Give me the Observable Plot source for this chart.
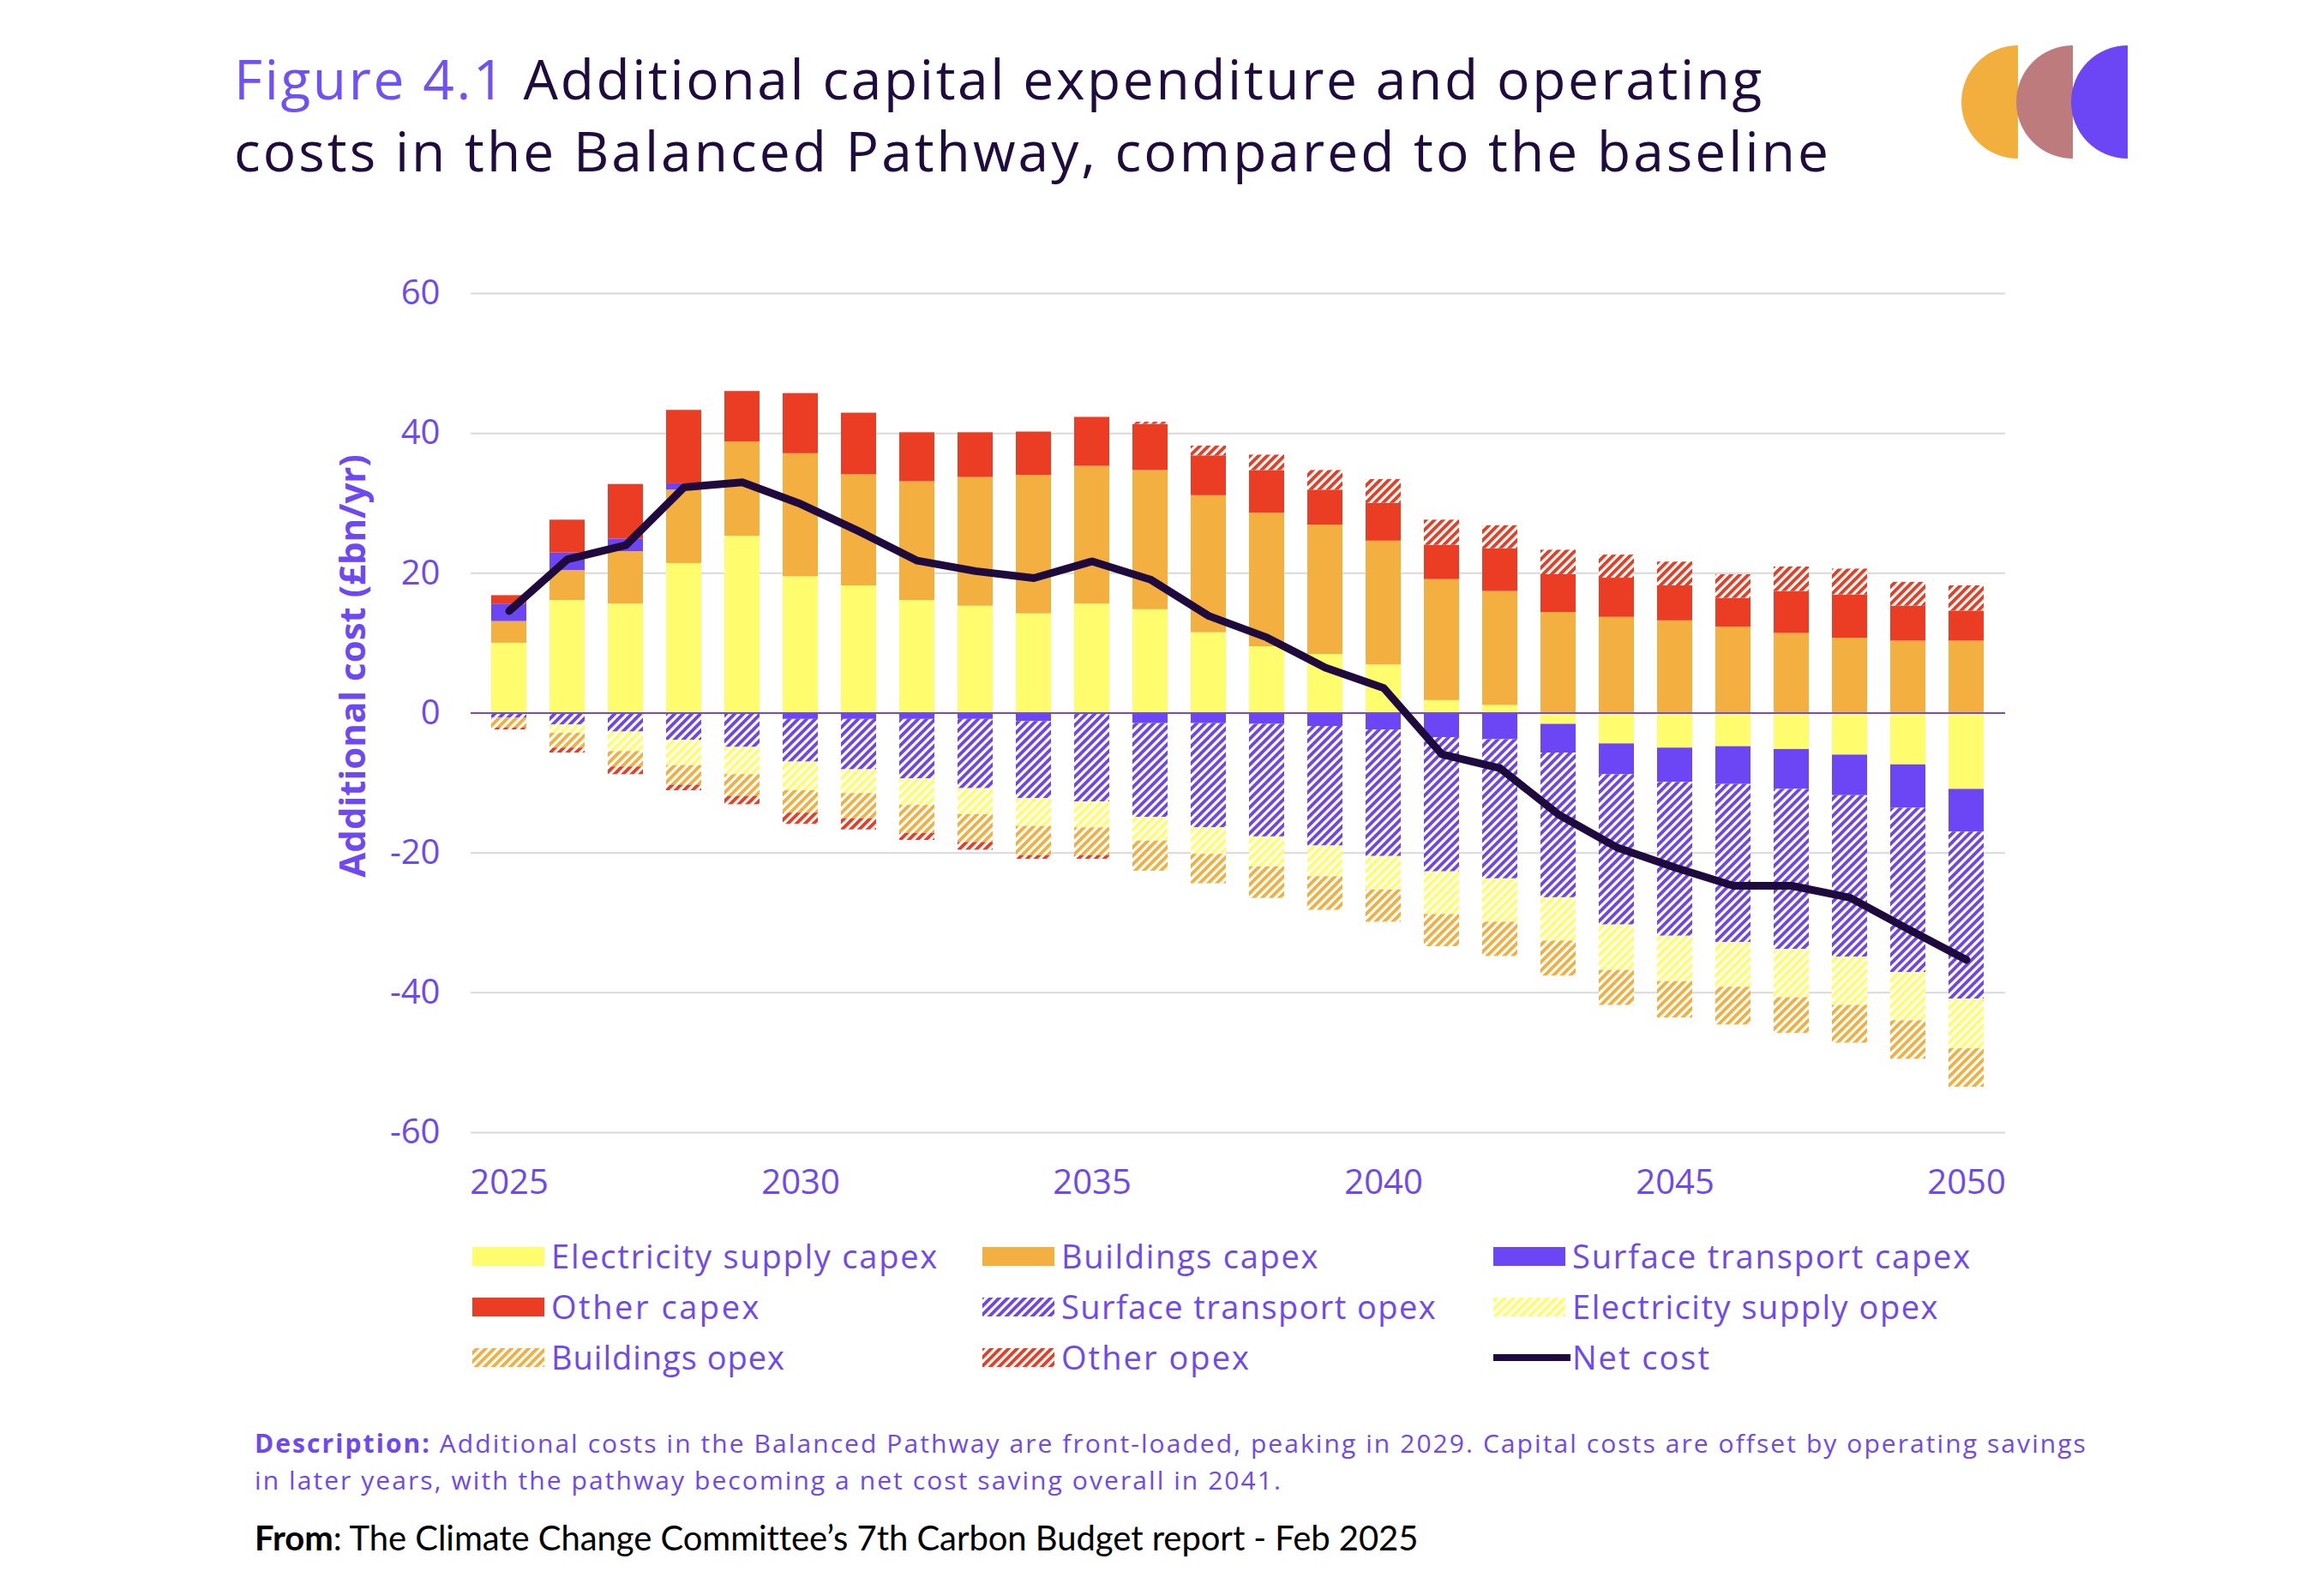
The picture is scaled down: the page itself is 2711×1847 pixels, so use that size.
<!DOCTYPE html>
<html>
<head>
<meta charset="utf-8">
<script src="https://cdn.jsdelivr.net/npm/d3@7"></script>
<script src="https://cdn.jsdelivr.net/npm/@observablehq/plot@0.6"></script>
<style>
html, body { margin: 0; padding: 0; background: #fff; }
#page { position: relative; width: 2711px; height: 1847px; overflow: hidden; background: #fff; font-family: "Open Sans", sans-serif; }
.abs { position: absolute; white-space: nowrap; line-height: 1; }
</style>
</head>
<body>
<div id="page"></div>
<script>
// ---------------- DATA ----------------
const years = [2025,2026,2027,2028,2029,2030,2031,2032,2033,2034,2035,2036,2037,2038,2039,2040,2041,2042,2043,2044,2045,2046,2047,2048,2049,2050];
const elecCapex      = [10.0,16.1,15.6,21.4,25.3,19.5,18.2,16.1,15.3,14.2,15.6,14.8,11.5,9.5,8.4,6.9,1.8,1.1,-1.6,-4.4,-5.0,-4.8,-5.2,-6.0,-7.4,-10.9];
const buildingsCapex = [3.1,4.3,7.5,10.5,13.5,17.6,15.9,17.0,18.4,19.8,19.7,19.9,19.6,19.1,18.5,17.7,17.3,16.3,14.4,13.7,13.2,12.3,11.4,10.7,10.3,10.3];
const transportCapex = [2.5,2.5,1.8,0.9,0,-0.9,-0.9,-0.9,-0.9,-1.2,0,-1.5,-1.5,-1.6,-1.9,-2.4,-3.5,-3.8,-4.1,-4.4,-4.9,-5.4,-5.7,-5.8,-6.2,-6.1];
const otherCapex     = [1.2,4.7,7.8,10.5,7.2,8.6,8.8,7.0,6.4,6.2,7.0,6.6,5.7,6.1,5.0,5.4,4.9,6.1,5.4,5.6,5.0,4.1,6.0,6.2,5.0,4.3];
const transportOpex  = [-0.7,-1.7,-2.7,-3.9,-4.9,-6.1,-7.2,-8.5,-9.9,-11.0,-12.7,-13.4,-14.9,-16.1,-17.1,-18.1,-19.2,-19.9,-20.7,-21.5,-22.0,-22.6,-22.9,-23.1,-23.5,-23.9];
const elecOpex       = [0,-1.2,-2.8,-3.6,-3.9,-4.1,-3.4,-3.8,-3.7,-4.0,-3.7,-3.4,-3.8,-4.3,-4.4,-4.8,-6.1,-6.2,-6.2,-6.5,-6.5,-6.4,-6.9,-6.9,-6.9,-7.1];
const buildingsOpex  = [-1.4,-2.1,-2.2,-2.8,-3.1,-3.2,-3.6,-4.0,-4.0,-4.2,-4.0,-4.3,-4.2,-4.5,-4.8,-4.6,-4.6,-4.9,-5.0,-5.0,-5.2,-5.4,-5.1,-5.4,-5.5,-5.5];
const otherOpex      = [-0.3,-0.7,-1.1,-0.8,-1.2,-1.6,-1.6,-1.0,-1.1,-0.5,-0.5,0.3,1.4,2.2,2.8,3.4,3.6,3.3,3.5,3.3,3.4,3.4,3.5,3.7,3.4,3.6];
const netCost        = [14.6,22.0,24.0,32.3,33.0,29.9,26.0,21.8,20.3,19.3,21.7,19.1,13.9,10.8,6.5,3.6,-5.9,-7.9,-14.5,-19.2,-22.1,-24.7,-24.7,-26.4,-30.9,-35.3];

const seriesNames = ["Electricity supply capex","Buildings capex","Surface transport capex","Other capex","Surface transport opex","Electricity supply opex","Buildings opex","Other opex"];
const netName = "Net cost";
const xTickYears = [2025,2030,2035,2040,2045,2050];
const yTicks = [-60,-40,-20,0,20,40,60];
const yLabel = "Additional cost (£bn/yr)";
const titleFigure = "Figure 4.1";
const titleLine1 = "Additional capital expenditure and operating";
const titleLine2 = "costs in the Balanced Pathway, compared to the baseline";
const descBold = "Description:";
const descLine1 = " Additional costs in the Balanced Pathway are front-loaded, peaking in 2029. Capital costs are offset by operating savings";
const descLine2 = "in later years, with the pathway becoming a net cost saving overall in 2041.";
const fromBold = "From";
const fromText = ": The Climate Change Committee\u2019s 7th Carbon Budget report - Feb 2025";

// ---------------- STYLE ----------------
const YELLOW = "#FFFD6E", ORANGE = "#F3AF3F", PURPLE = "#6C45F5", RED = "#EA3D24", NET = "#1F0A3D";
const AXIS = "#6D48F5", TITLE_DARK = "#1F0B3E", TITLE_PURPLE = "#7050F7";
const FONT = "'Open Sans', sans-serif";
const seriesFills = [YELLOW, ORANGE, PURPLE, RED, "url(#p-st)", "url(#p-el)", "url(#p-bu)", "url(#p-ot)"];

const seriesValues = [elecCapex, buildingsCapex, transportCapex, otherCapex, transportOpex, elecOpex, buildingsOpex, otherOpex];
const table = seriesNames.flatMap((s, i) => years.map((year, j) => ({series: s, year, value: seriesValues[i][j]})));
const netTable = years.map((year, j) => ({year, value: netCost[j]}));

const page = document.getElementById("page");

// ---------------- CHART ----------------
const TOP = 250;
const chart = Plot.plot({
  width: 2711,
  height: 1200,
  marginTop: 92,
  marginBottom: 129,
  marginLeft: 549,
  marginRight: 372,
  style: {fontFamily: FONT, color: AXIS, background: "transparent", overflow: "visible"},
  x: {type: "band", domain: years, paddingInner: 0.39, paddingOuter: 0.2},
  y: {domain: [-60, 60]},
  color: {type: "ordinal", domain: seriesNames, range: seriesFills},
  marks: [
    Plot.gridY(yTicks.filter(d => d !== 0), {stroke: "#D9D9D9", strokeOpacity: 1, strokeWidth: 2}),
    Plot.barY(table, {x: "year", y: "value", fill: "series"}),
    Plot.ruleY([0], {stroke: AXIS, strokeWidth: 2}),
    Plot.lineY(netTable, {x: "year", y: "value", stroke: NET, strokeWidth: 9, strokeLinejoin: "round", strokeLinecap: "round"}),
    Plot.axisY(yTicks, {tickSize: 0, tickPadding: 36, fontSize: 40, tickFormat: d => String(d), label: null, fill: AXIS}),
    Plot.axisX(xTickYears, {tickSize: 0, tickPadding: 43, fontSize: 40, tickFormat: d => String(d), label: null, fill: AXIS}),
    Plot.text([yLabel], {text: d => d, frameAnchor: "left", textAnchor: "middle", dx: -137, dy: -55, rotate: -90, fontSize: 42, fontWeight: 700, fill: AXIS})
  ]
});
chart.style.position = "absolute";
chart.style.left = "0px";
chart.style.top = TOP + "px";
chart.style.maxWidth = "none";

// hatch patterns
const defs = d3.select(chart).insert("defs", ":first-child");
function addPattern(id, color) {
  const p = defs.append("pattern").attr("id", id).attr("patternUnits", "userSpaceOnUse").attr("width", 10).attr("height", 10);
  p.append("rect").attr("width", 10).attr("height", 10).attr("fill", "#fff");
  p.append("path").attr("d", "M-2.5,2.5 l5,-5 M0,10 l10,-10 M7.5,12.5 l5,-5").attr("stroke", color).attr("stroke-width", 3.8).attr("fill", "none");
}
addPattern("p-st", PURPLE);
addPattern("p-el", YELLOW);
addPattern("p-bu", ORANGE);
addPattern("p-ot", RED);
page.appendChild(chart);

// ---------------- TEXT HELPERS ----------------
function placeText(html, x, baseline, size, opts = {}) {
  const div = document.createElement("div");
  div.className = "abs";
  div.style.left = x + "px";
  div.style.top = "0px";
  div.style.fontSize = size + "px";
  div.style.fontFamily = opts.font || FONT;
  div.style.color = opts.color || "#000";
  div.style.fontWeight = opts.weight || 400;
  div.innerHTML = html + '<span style="display:inline-block;width:0;height:0;vertical-align:baseline"></span>';
  page.appendChild(div);
  const probe = div.lastChild;
  const off = probe.getBoundingClientRect().top - div.getBoundingClientRect().top;
  div.style.top = (baseline - off) + "px";
  if (opts.width) {
    const w = div.getBoundingClientRect().width;
    const n = div.textContent.length;
    div.style.letterSpacing = ((opts.width - w) / n) + "px";
  }
  return div;
}

// Title
placeText(`<span style="color:${TITLE_PURPLE}">${titleFigure}</span> ${titleLine1}`, 273, 116, 64, {color: TITLE_DARK, width: 1785});
placeText(titleLine2, 273, 200, 64, {color: TITLE_DARK, width: 1863});

// Logo
const logo = d3.select(page).append("svg").style("position", "absolute").style("left", "0px").style("top", "0px")
  .attr("width", 2711).attr("height", 260);
const logoColors = ["#F2AF3E", "#BE7B7E", "#6C45F5"];
const logoEdges = [2354, 2418, 2482];
logoColors.forEach((c, i) => {
  const cx = logoEdges[i], cy = 119, r = 66;
  logo.append("path").attr("d", `M${cx},${cy - r} A${r},${r} 0 0 0 ${cx},${cy + r} Z`).attr("fill", c);
});

// Legend
const legendCols = [551, 1146, 1742];
const legendRows = [1466, 1525, 1584];
const legendTextWidths = [452, 301, 466, 245, 438, 428, 273, 221, 162];
const legendItems = seriesNames.map((s, i) => ({name: s, fill: seriesFills[i]})).concat([{name: netName, line: true}]);
const legendSvg = d3.select(page).append("svg").style("position", "absolute").style("left", "0px").style("top", "0px")
  .attr("width", 2711).attr("height", 1847).style("pointer-events", "none");
legendItems.forEach((item, i) => {
  const col = i % 3, row = Math.floor(i / 3);
  const x = legendCols[col], cy = legendRows[row];
  if (item.line) {
    legendSvg.append("line").attr("x1", x).attr("x2", x + 90).attr("y1", cy).attr("y2", cy).attr("stroke", NET).attr("stroke-width", 8);
  } else {
    legendSvg.append("rect").attr("x", x).attr("y", cy - 11).attr("width", 84).attr("height", 22).attr("fill", item.fill);
  }
  placeText(item.name, x + 92, cy + 14, 38, {color: AXIS, width: legendTextWidths[i]});
});

// Description
placeText(`<b>${descBold}</b>${descLine1}`, 297, 1695, 30, {color: AXIS, width: 2138});
placeText(descLine2, 297, 1738, 30, {color: AXIS, width: 1199});

// Source
placeText(`<b>${fromBold}</b>${fromText}`, 297, 1809, 40, {color: "#000", font: "Lato, sans-serif", width: 1356});
</script>
</body>
</html>
